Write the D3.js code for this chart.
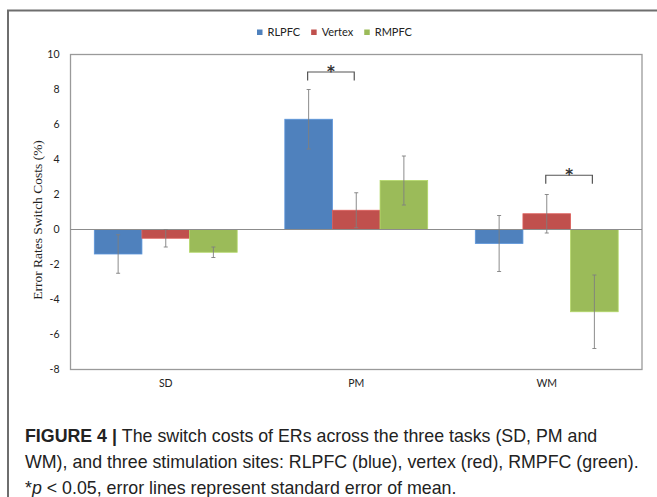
<!DOCTYPE html>
<html>
<head>
<meta charset="utf-8">
<script src="https://cdn.jsdelivr.net/npm/d3@7"></script>
<style>
  body { margin: 0; background: #fff; }
  svg { display: block; }
</style>
</head>
<body>
<div id="plot"></div>
<script>
// Values
const tasks = ["SD", "PM", "WM"];
const sites = ["RLPFC", "Vertex", "RMPFC"];
const rlpfc = [-1.4, 6.3, -0.8];
const rlpfcSE = [1.1, 1.7, 1.6];
const vertex = [-0.5, 1.1, 0.9];
const vertexSE = [0.5, 1.0, 1.1];
const rmpfc = [-1.3, 2.8, -4.7];
const rmpfcSE = [0.3, 1.4, 2.1];
const yTicks = [-8, -6, -4, -2, 0, 2, 4, 6, 8, 10];
// significance brackets: task, left site, right site, bracket height
const sigTasks = ["PM", "WM"];
const sigFrom = ["RLPFC", "Vertex"];
const sigTo = ["Vertex", "RMPFC"];
const sigY = [9.0, 3.1];

const colors = ["#4f81bd", "#c0504d", "#9bbb59"];
const means = [rlpfc, vertex, rmpfc];
const errs = [rlpfcSE, vertexSE, rmpfcSE];

const width = 657, height = 497;
const margin = { left: 70.5, right: 15, top: 54.5, bottom: 127.5 };

const svg = d3.select("#plot").append("svg")
    .attr("width", width)
    .attr("height", height);

// outer frame (only top and left edges are visible)
svg.append("rect")
    .attr("x", 8).attr("y", 10.5)
    .attr("width", 800).attr("height", 800)
    .attr("fill", "none")
    .attr("stroke", "#6e6e6e")
    .attr("stroke-width", 2);

const x0 = d3.scaleBand()
    .domain(tasks)
    .range([margin.left, width - margin.right]);

const x1 = d3.scaleBand()
    .domain(sites)
    .range([0, x0.bandwidth()])
    .paddingOuter(0.5);

const y = d3.scaleLinear()
    .domain([-8, 10])
    .range([height - margin.bottom, margin.top]);

// bars
const rows = [];
tasks.forEach((t, i) => {
    sites.forEach((s, j) => {
        rows.push({ task: t, site: s, value: means[j][i], se: errs[j][i], color: colors[j] });
    });
});

svg.append("g").selectAll("rect")
    .data(rows)
    .enter()
    .append("rect")
    .attr("x", d => x0(d.task) + x1(d.site))
    .attr("width", x1.bandwidth())
    .attr("y", d => y(Math.max(0, d.value)))
    .attr("height", d => Math.abs(y(d.value) - y(0)))
    .attr("fill", d => d.color)
    .attr("stroke", d => d3.color(d.color).brighter(0.4))
    .attr("stroke-width", 0.8);

// plot frame
svg.append("rect")
    .attr("x", margin.left).attr("y", margin.top)
    .attr("width", width - margin.left - margin.right)
    .attr("height", y(-8) - y(10))
    .attr("fill", "none")
    .attr("stroke", "#9a9a9a")
    .attr("stroke-width", 1.3);

// zero line
svg.append("line")
    .attr("x1", margin.left).attr("x2", width - margin.right)
    .attr("y1", y(0)).attr("y2", y(0))
    .attr("stroke", "#8c8c8c")
    .attr("stroke-width", 1.2);

// error bars
const eb = svg.append("g")
    .attr("stroke", "#7f7f7f")
    .attr("stroke-width", 0.9);
rows.forEach(d => {
    const cx = x0(d.task) + x1(d.site) + x1.bandwidth() / 2;
    eb.append("line")
        .attr("x1", cx).attr("x2", cx)
        .attr("y1", y(d.value + d.se)).attr("y2", y(d.value - d.se));
    [d.value + d.se, d.value - d.se].forEach(v => {
        eb.append("line")
            .attr("x1", cx - 2).attr("x2", cx + 2)
            .attr("y1", y(v)).attr("y2", y(v));
    });
});

// significance brackets
sigTasks.forEach((t, i) => {
    const xa = x0(t) + x1(sigFrom[i]) + x1.bandwidth() / 2 - 1;
    const xb = x0(t) + x1(sigTo[i]) + x1.bandwidth() / 2 - 2;
    const yt = y(sigY[i]);
    svg.append("path")
        .attr("d", `M${xa},${yt + 8.5}V${yt}H${xb}V${yt + 8.5}`)
        .attr("fill", "none")
        .attr("stroke", "#555")
        .attr("stroke-width", 1.2);
    svg.append("text")
        .attr("x", (xa + xb) / 2)
        .attr("y", yt + 5)
        .attr("text-anchor", "middle")
        .attr("font-family", "'DejaVu Sans', sans-serif")
        .attr("font-size", 15)
        .attr("font-weight", "bold")
        .attr("fill", "#333")
        .text("*");
});

// y axis labels
const yAxis = d3.axisLeft(y)
    .tickValues(yTicks)
    .tickFormat(d => String(d))
    .tickSize(0)
    .tickPadding(11);
svg.append("g")
    .attr("transform", `translate(${margin.left},0)`)
    .call(yAxis)
    .call(g => g.select(".domain").remove())
    .selectAll("text")
    .attr("font-family", "Lato, sans-serif")
    .attr("font-size", 10.5)
    .attr("fill", "#222");

// x axis labels
const xAxis = d3.axisBottom(x0).tickSize(0).tickPadding(10);
svg.append("g")
    .attr("transform", `translate(0,${y(-8)})`)
    .call(xAxis)
    .call(g => g.select(".domain").remove())
    .selectAll("text")
    .attr("font-family", "Lato, sans-serif")
    .attr("font-size", 10.5)
    .attr("fill", "#222");

// y axis title
svg.append("text")
    .attr("transform", `translate(42,${(margin.top + y(-8)) / 2 + 8}) rotate(-90)`)
    .attr("text-anchor", "middle")
    .attr("font-family", "'Liberation Serif', 'Times New Roman', serif")
    .attr("font-size", 13.5)
    .attr("fill", "#222")
    .text("Error Rates Switch Costs (%)");

// legend
const legend = svg.append("g");
let lx = 257;
sites.forEach((s, j) => {
    legend.append("rect")
        .attr("x", lx).attr("y", 29.5)
        .attr("width", 5.5).attr("height", 5.5)
        .attr("fill", colors[j]);
    const t = legend.append("text")
        .attr("x", lx + 10.5).attr("y", 36)
        .attr("font-family", "Lato, sans-serif")
        .attr("font-size", 11)
        .attr("fill", "#222")
        .text(s);
    lx += 10.5 + t.node().getComputedTextLength() + 11;
});

// caption
const caption = [
    [["FIGURE 4 | ", true], ["The switch costs of ERs across the three tasks (SD, PM and", false]],
    [["WM), and three stimulation sites: RLPFC (blue), vertex (red), RMPFC (green).", false]],
    [["*", false], ["p", "i"], [" < 0.05, error lines represent standard error of mean.", false]]
];
caption.forEach((line, i) => {
    const t = svg.append("text")
        .attr("x", 25)
        .attr("y", 442 + i * 26)
        .attr("font-family", "'Liberation Sans', Arial, sans-serif")
        .attr("font-size", 17.8)
        .attr("fill", "#222");
    line.forEach(([str, style]) => {
        const sp = t.append("tspan").text(str);
        if (style === true) sp.attr("font-weight", "bold");
        if (style === "i") sp.attr("font-style", "italic");
    });
});
</script>
</body>
</html>
